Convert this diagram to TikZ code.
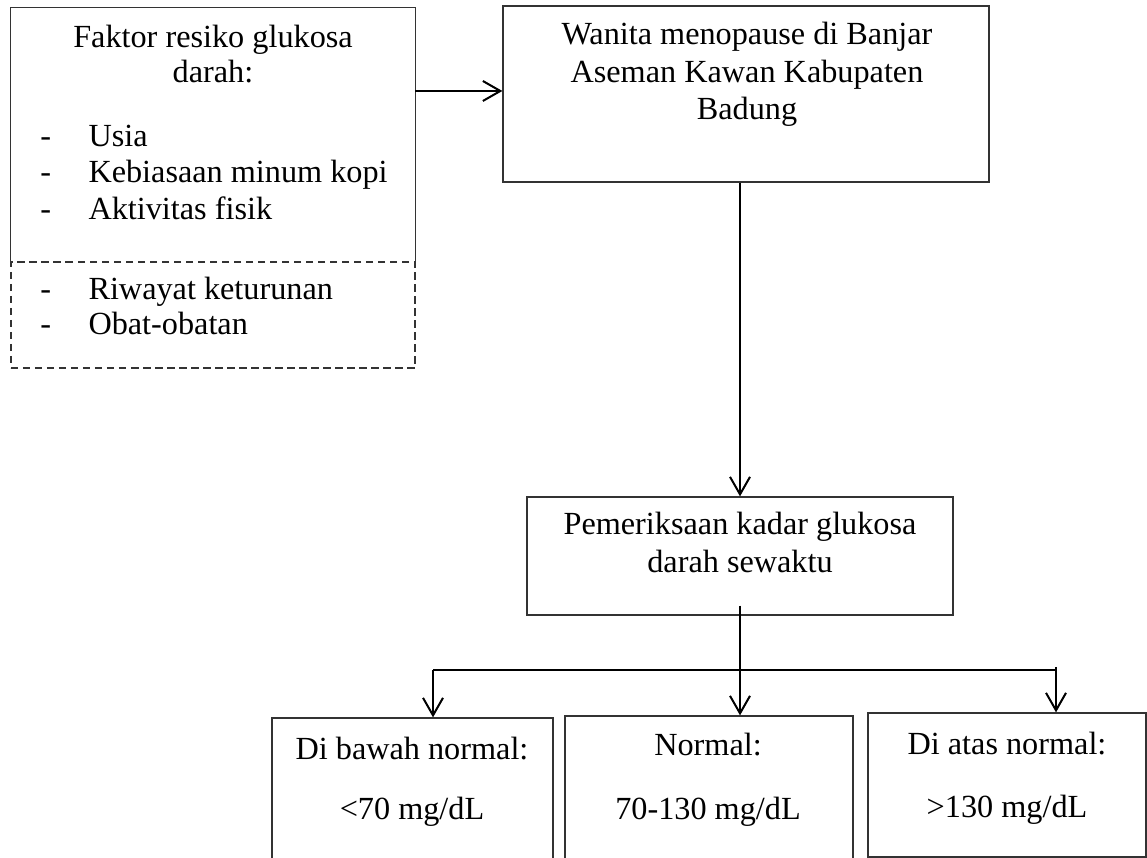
\documentclass[tikz,border=0pt]{standalone}
\usepackage{fontspec}
\setmainfont{Liberation Serif}
\usetikzlibrary{arrows.meta}
\begin{document}
\begin{tikzpicture}[x=0.4pt,y=-0.4pt,
    every node/.style={font=\fontsize{12.9pt}{15pt}\selectfont,inner sep=0pt},
    boxnode/.style={draw=black!80,line width=0.5pt,rectangle},
    dashbox/.style={boxnode,dash pattern=on 3pt off 1.8pt},
    arr/.style={line width=0.8pt,-{Straight Barb[length=7pt,width=8pt]}},
    busline/.style={line width=0.8pt}]
        \useasboundingbox (0,0) rectangle (1147,858);
        % kotak faktor resiko
        \node[minimum width=161.6pt,minimum height=101.6pt] (faktor) at (213,135) {};
        \node[dashbox,minimum width=161.6pt,minimum height=42.4pt] (faktorb) at (213,315) {};
        \draw[black!80,line width=0.5pt] (faktor.south west) |- (faktor.north east) -- (faktor.south east);
        \node[anchor=base] (judul1) at (213,48) {Faktor resiko glukosa};
        \node[anchor=base] (judul2) at (213,83) {darah:};
        \node[anchor=base west] (d1) at (40,147) {-};
        \node[anchor=base west] (f1) at (88,147) {Usia};
        \node[anchor=base west] (d2) at (40,183) {-};
        \node[anchor=base west] (f2) at (88,183) {Kebiasaan minum kopi};
        \node[anchor=base west] (d3) at (40,220) {-};
        \node[anchor=base west] (f3) at (88,220) {Aktivitas fisik};
        \node[anchor=base west] (d4) at (40,300) {-};
        \node[anchor=base west] (f4) at (88,300) {Riwayat keturunan};
        \node[anchor=base west] (d5) at (40,335) {-};
        \node[anchor=base west] (f5) at (88,335) {Obat-obatan};
        % kotak wanita menopause
        \node[boxnode,minimum width=194.4pt,minimum height=70.4pt] (wanita) at (746,94) {};
        \node[anchor=base] (w1) at (747,45) {Wanita menopause di Banjar};
        \node[anchor=base] (w2) at (747,83) {Aseman Kawan Kabupaten};
        \node[anchor=base] (w3) at (747,120) {Badung};
        % kotak pemeriksaan
        \node[boxnode,minimum width=170.4pt,minimum height=47.2pt] (periksa) at (740,556) {};
        \node[anchor=base] (p1) at (740,535) {Pemeriksaan kadar glukosa};
        \node[anchor=base] (p2) at (740,573) {darah sewaktu};
        % kotak hasil
        \node[boxnode,minimum width=112.4pt,minimum height=64.8pt] (bawah) at (412.5,799) {};
        \node[anchor=base] (b1) at (412,759) {Di bawah normal:};
        \node[anchor=base] (b2) at (412,819) {<70 mg/dL};
        \node[boxnode,minimum width=115.2pt,minimum height=65.6pt] (normal) at (709,798) {};
        \node[anchor=base] (n1) at (708,755) {Normal:};
        \node[anchor=base] (n2) at (708,819) {70-130 mg/dL};
        \node[boxnode,minimum width=111.2pt,minimum height=57.6pt] (atas) at (1007,785) {};
        \node[anchor=base] (a1) at (1007,754) {Di atas normal:};
        \node[anchor=base] (a2) at (1007,817) {>130 mg/dL};
        % panah
        \coordinate (kanan) at (415,91);
        \draw[arr] (kanan) -- (kanan -| wanita.west);
        \draw[arr] (periksa.north |- wanita.south) -- (periksa.north);
        \coordinate (busL) at (433,670);
        \coordinate (busR) at (1056,667);
        \draw[busline] (busL) -- (busL -| busR);
        \draw[arr] ([yshift=4pt]periksa.south) -- (periksa.south |- normal.north);
        \draw[arr] (busL) -- (busL |- bawah.north);
        \draw[arr] (busR) -- (busR |- atas.north);
    \end{tikzpicture}
\end{document}
